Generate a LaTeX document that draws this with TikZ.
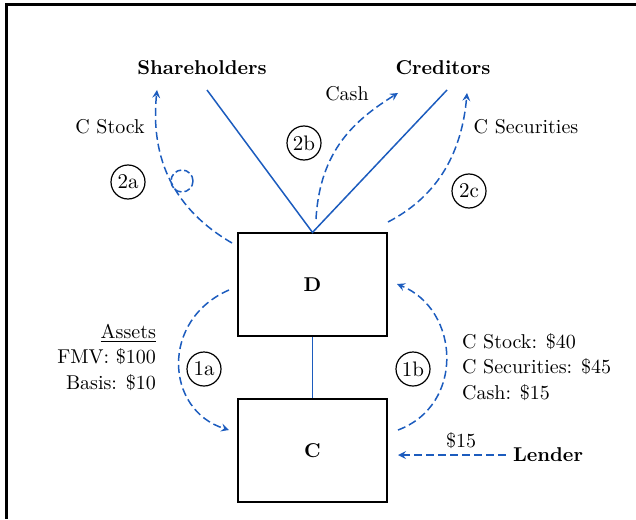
\documentclass[tikz,border=0pt]{standalone}
\usepackage{amsmath}
\usepackage[dvipsnames]{xcolor}
\usepackage{tikz}
\definecolor{flowblue}{RGB}{28,92,190}

\begin{document}
\begin{tikzpicture}[x=0.5pt, y=-0.5pt, >=stealth,
		every node/.style={font=\fontsize{10}{12.75}\selectfont},
		party/.style={font=\fontsize{10}{12}\selectfont\bfseries},
		corp/.style={draw, line width=0.6pt, minimum width=74.5pt, minimum height=51.5pt, font=\fontsize{10}{12}\selectfont\bfseries},
		stepno/.style={draw, circle, line width=0.6pt, minimum size=17pt, inner sep=0pt, font=\fontsize{10.5}{12}\selectfont},
		link/.style={flowblue, line width=0.75pt},
		flow/.style={flowblue, line width=0.75pt, dash pattern={on 4pt off 2pt}}]
			\useasboundingbox (0,0) rectangle (636,519);
			% frame
			\draw[line width=1.5pt] (636,5) -- (6,5) -- (6,519);
			% parties
			\node[party] (share) at (202,68) {Shareholders};
			\node[party] (cred) at (443,68) {Creditors};
			\node[party] (lender) at (548,455) {Lender};
			\node[corp] (D) at (312.5,284.5) {D};
			\node[corp] (C) at (312.5,450.5) {C};
			% coordinates
			\coordinate (sh) at (207,90);
			\coordinate (cr) at (447,90);
			\coordinate (a2s) at (232,243);
			\coordinate (a2e) at (157,90);
			\coordinate (b2s) at (316,219);
			\coordinate (b2e) at (398,93);
			\coordinate (c2s) at (388,222);
			\coordinate (c2e) at (467,93);
			\coordinate (a1s) at (229,290);
			\coordinate (a1e) at (229,430);
			\coordinate (b1s) at (398,430);
			\coordinate (b1e) at (397,284);
			\coordinate (lend) at (398,456);
			% ownership lines
			\draw[link] (sh) -- (D.north) -- (cr);
			\draw[link] (D.south) -- (C.north);
			% step numbers
			\node[stepno] (s2a) at (128,182) {2a};
			\node[stepno] (s2b) at (304,143) {2b};
			\node[stepno] (s2c) at (469,191) {2c};
			\node[stepno] (s1a) at (204,369) {1a};
			\node[stepno] (s1b) at (413,369) {1b};
			\node[flowblue, draw, circle, line width=0.75pt, dash pattern={on 3pt off 1.5pt}, minimum size=11pt, inner sep=0pt] (loop) at (182,181) {};
			% transfers
			\draw[flow, ->] (a2s) .. controls (175,210) and (150,160) .. (a2e);
			\draw[flow, ->] (b2s) .. controls (320,150) and (355,120) .. (b2e);
			\draw[flow, ->] (c2s) .. controls (440,195) and (462,150) .. (c2e);
			\draw[flow, ->] (a1s) .. controls (160,320) and (165,410) .. (a1e);
			\draw[flow, ->] (b1s) .. controls (465,405) and (460,310) .. (b1e);
			\draw[flow, ->] (lender.west) -- (lend |- lender.west);
			% labels
			\node (lstock) at (110,127) {C Stock};
			\node (lcash) at (347,94) {Cash};
			\node (lsec) at (526,127) {C Securities};
			\node[anchor=east, align=right] (assets) at (163,357) {\underline{Assets}\\FMV: \$100\\Basis: \$10};
			\node[anchor=west, align=left] (boot) at (455,367) {C Stock: \$40\\C Securities: \$45\\Cash: \$15};
			\node (loan) at (461,441) {\$15};
		\end{tikzpicture}
\end{document}
